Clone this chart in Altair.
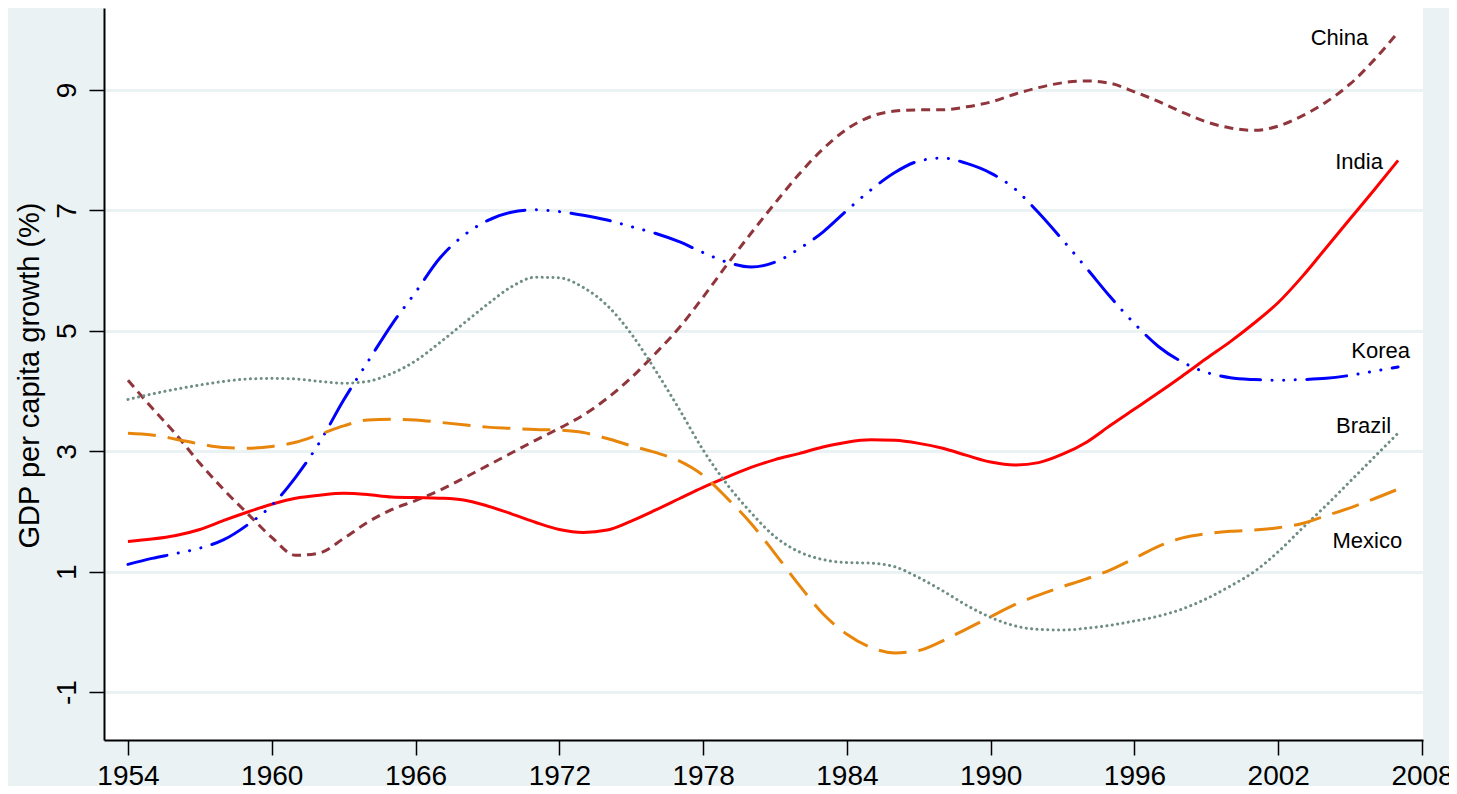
import altair as alt
import pandas as pd

YEARS = list(range(1954, 2008))

INDIA = [1.50, 1.54, 1.60, 1.70, 1.85, 1.99, 2.12, 2.22, 2.27, 2.30,
         2.28, 2.24, 2.23, 2.22, 2.19, 2.09, 1.96, 1.82, 1.70, 1.65,
         1.69, 1.84, 2.02, 2.21, 2.40, 2.57, 2.73, 2.86, 2.96, 3.07,
         3.15, 3.19, 3.18, 3.13, 3.05, 2.93, 2.82, 2.77, 2.81, 2.95,
         3.15, 3.43, 3.70, 3.97, 4.25, 4.54, 4.82, 5.13, 5.47, 5.90,
         6.38, 6.86, 7.34, 7.83]

KOREA = [1.12, 1.22, 1.30, 1.39, 1.53, 1.78, 2.10, 2.57, 3.15, 3.85,
         4.48, 5.10, 5.64, 6.20, 6.58, 6.83, 6.97, 7.01, 6.98, 6.92,
         6.84, 6.73, 6.62, 6.48, 6.30, 6.14, 6.06, 6.14, 6.36, 6.64,
         7.00, 7.34, 7.63, 7.82, 7.87, 7.78, 7.62, 7.36, 6.96, 6.51,
         6.04, 5.56, 5.12, 4.74, 4.48, 4.31, 4.22, 4.19, 4.18, 4.19,
         4.21, 4.26, 4.33, 4.40]

CHINA = [4.18, 3.72, 3.28, 2.80, 2.36, 1.96, 1.57, 1.27, 1.31, 1.55,
         1.82, 2.03, 2.18, 2.35, 2.55, 2.76, 2.97, 3.18, 3.38, 3.60,
         3.88, 4.22, 4.62, 5.05, 5.56, 6.10, 6.62, 7.12, 7.60, 8.02,
         8.35, 8.56, 8.65, 8.67, 8.67, 8.72, 8.80, 8.93, 9.04, 9.12,
         9.15, 9.11, 8.97, 8.81, 8.63, 8.47, 8.37, 8.33, 8.40, 8.57,
         8.80, 9.10, 9.50, 9.96]

BRAZIL = [3.86, 3.95, 4.03, 4.10, 4.16, 4.20, 4.21, 4.20, 4.16, 4.13,
          4.16, 4.29, 4.50, 4.80, 5.12, 5.44, 5.73, 5.89, 5.88, 5.72,
          5.42, 4.95, 4.35, 3.70, 3.02, 2.45, 1.98, 1.58, 1.33, 1.20,
          1.15, 1.14, 1.08, 0.90, 0.68, 0.44, 0.24, 0.10, 0.04, 0.03,
          0.06, 0.11, 0.18, 0.26, 0.38, 0.55, 0.76, 1.00, 1.33, 1.72,
          2.10, 2.50, 2.90, 3.30]

MEXICO = [3.30, 3.27, 3.20, 3.12, 3.06, 3.05, 3.08, 3.15, 3.28, 3.42,
          3.52, 3.53, 3.52, 3.48, 3.44, 3.40, 3.38, 3.36, 3.35, 3.31,
          3.21, 3.09, 2.98, 2.84, 2.60, 2.22, 1.80, 1.30, 0.78, 0.30,
          -0.04, -0.26, -0.35, -0.31, -0.15, 0.05, 0.25, 0.45, 0.61, 0.75,
          0.88, 1.03, 1.22, 1.42, 1.56, 1.63, 1.67, 1.69, 1.73, 1.80,
          1.93, 2.06, 2.21, 2.37]

LABELS = ["China", "India", "Korea", "Brazil", "Mexico"]
LABEL_YEAR = [2005.75, 2006.37, 2007.5, 2006.71, 2007.17]
LABEL_VALUE = [9.75, 7.69, 4.54, 3.30, 1.40]

X_TICKS = [1954, 1960, 1966, 1972, 1978, 1984, 1990, 1996, 2002, 2008]
Y_TICKS = [-1, 1, 3, 5, 7, 9]

FONT = "Liberation Sans"
BG = "#EAF2F3"

series = [
    ("China", CHINA, "#90353B", [9, 6], "butt"),
    ("India", INDIA, "#FF0000", None, "butt"),
    ("Korea", KOREA, "#0000FF", [40, 11.5, 0.1, 11.5, 0.1, 11.5, 0.1, 11.5], "round"),
    ("Brazil", BRAZIL, "#6E8E84", [0.1, 5.3], "round"),
    ("Mexico", MEXICO, "#E8860C", [28, 12], "butt"),
]

xscale = alt.Scale(domain=[1953.0, 2008.04], nice=False, zero=False)
yscale = alt.Scale(domain=[-1.797, 10.362], nice=False, zero=False)

xaxis = alt.Axis(values=X_TICKS, format="d", title=None, grid=False,
                 labelFontSize=28, labelFont=FONT, labelColor="black",
                 labelPadding=7, tickSize=15, tickColor="black", tickWidth=1.5,
                 domainColor="black", domainWidth=2, labelFlush=False,
                 labelOverlap=False)
yaxis = alt.Axis(values=Y_TICKS, labelExpr="'' + datum.value",
                 title="GDP per capita growth (%)",
                 grid=True, gridColor=BG, gridWidth=3,
                 labelFontSize=28, labelFont=FONT, labelColor="black",
                 labelAngle=-90, labelAlign="center", labelBaseline="alphabetic",
                 labelPadding=14, tickSize=15, tickColor="black", tickWidth=1.5,
                 domainColor="black", domainWidth=2, labelFlush=False,
                 labelOverlap=False,
                 titleFontSize=29, titleFont=FONT, titleFontWeight="normal",
                 titleColor="black", titleAngle=-90, titleX=-66, titleY=367,
                 titleAlign="center", titleBaseline="alphabetic")

X = alt.X("year:Q", scale=xscale, axis=xaxis, title=None)
Y = alt.Y("value:Q", scale=yscale, axis=yaxis, title="GDP per capita growth (%)")

layers = []
for name, vals, color, dash, cap in series:
    df = pd.DataFrame({"year": YEARS, "value": vals})
    kw = dict(color=color, strokeWidth=3, interpolate="monotone", strokeCap=cap)
    if dash is not None:
        kw["strokeDash"] = dash
    layers.append(alt.Chart(df).mark_line(**kw).encode(x=X, y=Y))

lab_df = pd.DataFrame({"label": LABELS, "year": LABEL_YEAR, "value": LABEL_VALUE})
labels = alt.Chart(lab_df).mark_text(align="right", baseline="alphabetic",
                                     fontSize=22, font=FONT, color="black").encode(
    x=X, y=Y, text="label:N",
)
layers.append(labels)

chart = alt.layer(*layers).properties(
    width=1319, height=732,
    autosize=alt.AutoSizeParams(type="none"),
    padding={"left": 96, "top": 0, "right": 26, "bottom": 46},
    background=BG,
).configure_view(fill="white", stroke=None)

chart.save("out.html", embed_options={"renderer": "svg", "actions": False})
